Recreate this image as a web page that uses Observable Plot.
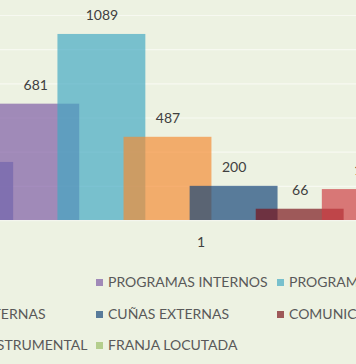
<!DOCTYPE html>
<html>
<head>
<meta charset="utf-8">
<script src="https://cdn.jsdelivr.net/npm/d3@7"></script>
<script src="https://cdn.jsdelivr.net/npm/@observablehq/plot@0.6"></script>
<style>
  html, body { margin: 0; padding: 0; background: #edf2e2; }
  #wrap { position: relative; width: 356px; height: 364px; overflow: hidden; background: #edf2e2; font-family: Lato, "Open Sans", sans-serif; }
  #legend { position: absolute; left: 0; top: 0; width: 356px; height: 364px; pointer-events: none; }
  .item { position: absolute; white-space: nowrap; font-size: 14px; color: #595959; line-height: 16px; }
  .sw { display: inline-block; width: 7px; height: 7px; margin-right: 5px; vertical-align: 1px; }
</style>
</head>
<body>
<div id="wrap"><div id="chart"></div><div id="legend"></div></div>
<script>
const categories = ["1"];
const series = ["MÚSICA", "PROGRAMAS INTERNOS", "PROGRAMAS EXTERNOS", "CUÑAS INTERNAS", "CUÑAS EXTERNAS", "COMUNICADOS", "FRANJA INSTRUMENTAL", "FRANJA LOCUTADA"];
const values = [340, 681, 1089, 487, 200, 66, 181, 150];
const colors = ["#587bbd", "#7c59a4", "#41a8c2", "#f48a32", "#124278", "#791017", "#ce3c43", "#99bc64"];
const gridTicks = [200, 400, 600, 800, 1000, 1200];

const halfWidth = 0.665;
const data = series.map((s, i) => ({ series: s, value: values[i], color: colors[i], i }));
const groupCenter = d3.mean(data, d => d.i);

const chart = Plot.plot({
  width: 356,
  height: 260,
  marginLeft: 0,
  marginRight: 0,
  marginTop: 15,
  marginBottom: 40,
  style: { background: "transparent", fontFamily: "Lato, 'Open Sans', sans-serif", overflow: "hidden" },
  x: { type: "linear", domain: [0.466, 5.852], axis: null },
  y: { domain: [0, 1200], axis: null },
  color: { type: "identity" },
  marks: [
    Plot.ruleY(gridTicks, { stroke: "#f7f9f1", strokeWidth: 1.2 }),
    Plot.ruleY([0], { stroke: "#f4f6ee", strokeWidth: 1.5 }),
    Plot.rectY(data, {
      x1: d => d.i - halfWidth,
      x2: d => d.i + halfWidth,
      y1: 0,
      y2: "value",
      fill: "color",
      fillOpacity: 0.68,
      clip: true
    }),
    Plot.text(data, {
      x: "i",
      y: "value",
      text: d => String(d.value),
      dy: -19,
      fontSize: 14,
      fill: "#404040",
      textAnchor: "middle",
      lineAnchor: "middle"
    }),
    Plot.text(categories, {
      x: () => groupCenter,
      y: () => 0,
      text: d => d,
      dy: 22,
      fontSize: 14,
      fill: "#404040",
      lineAnchor: "middle"
    })
  ]
});
document.getElementById("chart").appendChild(chart);

// legend (3 columns, row-major), partially outside the visible window
const legend = document.getElementById("legend");
const colStep = 181, colStart = -85, rowStart = 274, rowStep = 31.5;
data.forEach((d, k) => {
  const col = k % 3, row = Math.floor(k / 3);
  const el = document.createElement("div");
  el.className = "item";
  el.style.left = (colStart + col * colStep) + "px";
  el.style.top = (rowStart + row * rowStep) + "px";
  const sw = document.createElement("span");
  sw.className = "sw";
  sw.style.background = d.color;
  sw.style.opacity = 0.68;
  el.appendChild(sw);
  el.appendChild(document.createTextNode(d.series));
  legend.appendChild(el);
});
</script>
</body>
</html>
